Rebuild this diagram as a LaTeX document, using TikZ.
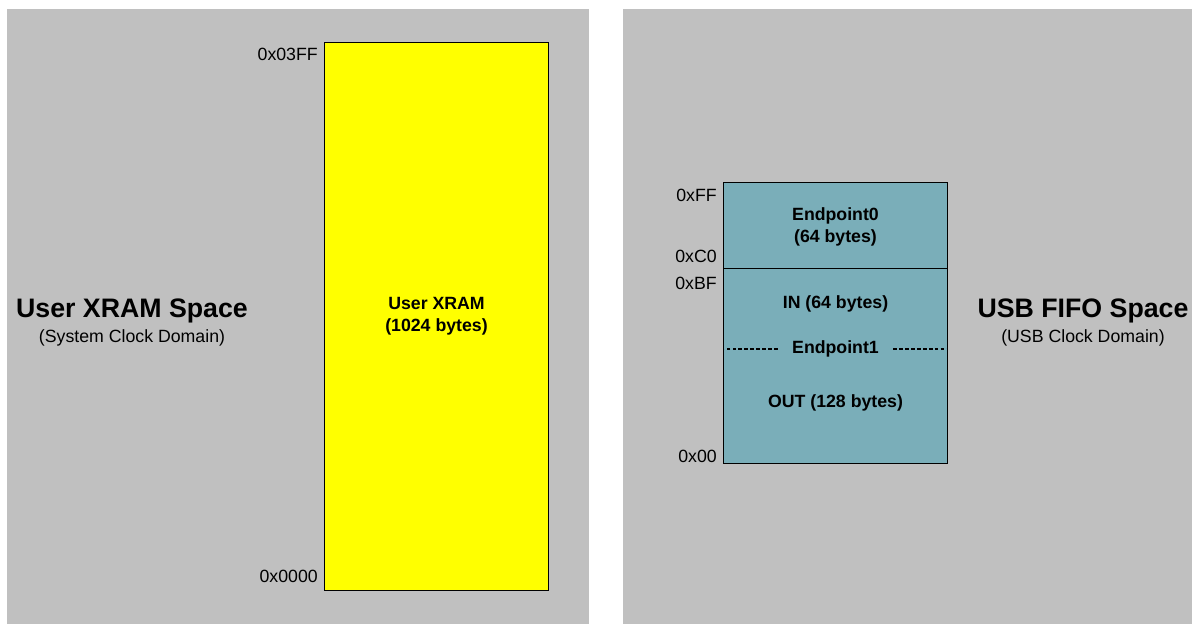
\documentclass[tikz,border=0pt]{standalone}
\usepackage{fontspec}
\setmainfont{Liberation Sans}
\usetikzlibrary{positioning}
\definecolor{panelgray}{RGB}{192,192,192}
\definecolor{xramyellow}{RGB}{255,255,0}
\definecolor{fifoteal}{RGB}{122,174,185}
\tikzstyle{memblock} = [rectangle, draw=black, line width=0.7pt, minimum width=5.575cm, inner sep=0pt, text centered, align=center, font=\fontsize{12.6}{16}\selectfont\bfseries]
\tikzstyle{blocktext} = [inner sep=0pt, align=center, font=\fontsize{12.6}{16}\selectfont\bfseries]
\tikzstyle{addr} = [anchor=east, inner sep=0pt, font=\fontsize{12.6}{15}\selectfont]
\tikzstyle{spacetitle} = [anchor=base, inner sep=0pt, font=\fontsize{19}{22}\selectfont\bfseries]
\tikzstyle{spacesub} = [anchor=base, inner sep=0pt, font=\fontsize{12.6}{15}\selectfont]
\tikzstyle{divider} = [line width=0.9pt, dash pattern=on 2.6pt off 1.6pt]

\begin{document}
\begin{tikzpicture}
			[x=0.025cm, y=-0.025cm]
			\useasboundingbox (0,0) rectangle (1192,624);

			% background panels
			\fill[panelgray] (7,9) rectangle (589,624);
			\fill[panelgray] (623,9) rectangle (1192,624);

			% user xram side
			\node (xram) [memblock, fill=xramyellow, minimum height=13.675cm] at (436.5,316.5) {};
			\node (xramname) [blocktext] at (436.5,316) {User XRAM\\(1024 bytes)};
			\node (xramtop) [addr] at (318,54) {0x03FF};
			\node (xrambot) [addr] at (318,576) {0x0000};
			\node (xramtitle) [spacetitle] at (132,317) {User XRAM Space};
			\node (xramsub) [spacesub] at (132,342) {(System Clock Domain)};

			% usb fifo side
			\node (ep0) [memblock, fill=fifoteal, minimum height=2.15cm] at (835.5,226) {};
			\node (ep0name) [blocktext] at (835.5,227) {Endpoint0\\(64 bytes)};
			\node (ep1) [memblock, fill=fifoteal, minimum height=4.85cm] at (835.5,366) {};
			\node (epin) [blocktext] at (835.5,303.5) {IN (64 bytes)};
			\node (epname) [blocktext, inner xsep=0.36cm] at (835.5,349) {Endpoint1};
			\node (epout) [blocktext] at (835.5,402.5) {OUT (128 bytes)};
			\draw [divider] (epname.west) -- (epname.west -| ep1.west);
			\draw [divider] (epname.east) -- (epname.east -| ep1.east);

			\node (ffaddr) [addr] at (717,195) {0xFF};
			\node (c0addr) [addr] at (717,256) {0xC0};
			\node (bfaddr) [addr] at (717,283) {0xBF};
			\node (zeroaddr) [addr] at (717,456) {0x00};
			\node (fifotitle) [spacetitle] at (1083,317) {USB FIFO Space};
			\node (fifosub) [spacesub] at (1083,342) {(USB Clock Domain)};

			\end{tikzpicture}
\end{document}
